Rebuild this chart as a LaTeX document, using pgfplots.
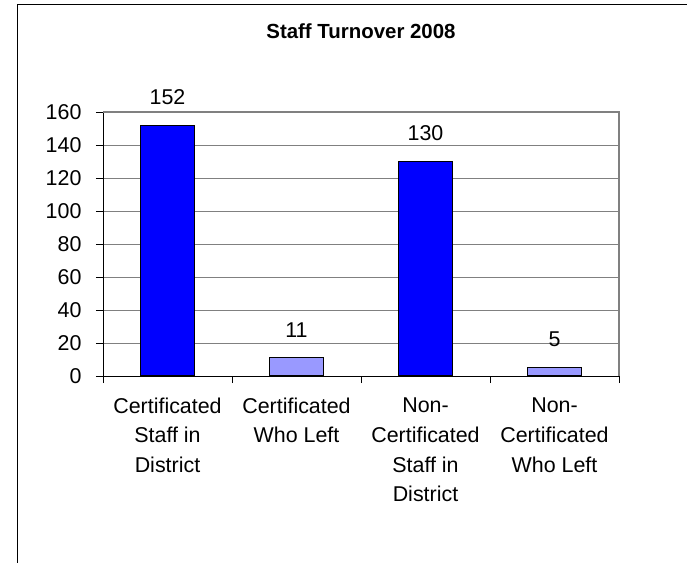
\documentclass[border=0pt]{standalone}
\usepackage{pgfplots}
\pgfplotsset{compat=1.18}
\usepackage{fontspec}
\setmainfont{Liberation Sans}
\definecolor{darkbar}{RGB}{0,0,255}
\definecolor{lightbar}{RGB}{153,153,255}
\definecolor{gridgray}{RGB}{128,128,128}
\begin{document}
\begin{tikzpicture}
\useasboundingbox (0,0) rectangle (687bp,563bp);
\draw[black, line width=1bp] (17bp,0) -- (17bp,558bp) -- (687bp,558bp);
\begin{axis}[
  at={(103bp,187bp)}, anchor=south west,
  scale only axis, width=516bp, height=264bp,
  xmin=-0.5, xmax=3.5, ymin=0, ymax=160,
  ytick={0,20,...,160},
  xtick={0,1,2,3},
  xticklabels={{Certificated\\Staff in\\District},{Certificated\\Who Left},{Non-\\Certificated\\Staff in\\District},{Non-\\Certificated\\Who Left}},
  minor xtick={-0.5,0.5,1.5,2.5,3.5},
  major x tick style={draw=none},
  tick pos=left,
  tick align=outside,
  major tick length=7bp, minor tick length=7bp,
  tick style={black, line width=0.8bp},
  ymajorgrids,
  grid style={gridgray, line width=0.8bp},
  axis line style={black, line width=1bp},
  /pgf/number format/assume math mode=true,
  yticklabel style={font=\fontsize{21.5}{24}\selectfont, xshift=-11bp},
  xticklabel style={font=\fontsize{21.5}{30}\selectfont, align=center, anchor=north, yshift=-11bp},
  title={\bfseries Staff Turnover 2008},
  title style={font=\fontsize{20.5}{24}\selectfont, at={(0.5,1)}, anchor=center, yshift=75bp},
  ybar, bar width=0.42, bar shift=0pt,
  nodes near coords,
  every node near coord/.append style={font=\fontsize{21.5}{24}\selectfont, anchor=south, inner sep=0pt, yshift=20bp, black},
  clip=false,
]
\addplot[fill=darkbar, draw=black, line width=1.2bp] coordinates {(0,152) (2,130)};
\addplot[fill=lightbar, draw=black, line width=1.2bp] coordinates {(1,11) (3,5)};
\draw[gridgray, line width=1.5bp] (rel axis cs:0,1) -- (rel axis cs:1,1) -- (rel axis cs:1,0);
\end{axis}
\end{tikzpicture}
\end{document}
